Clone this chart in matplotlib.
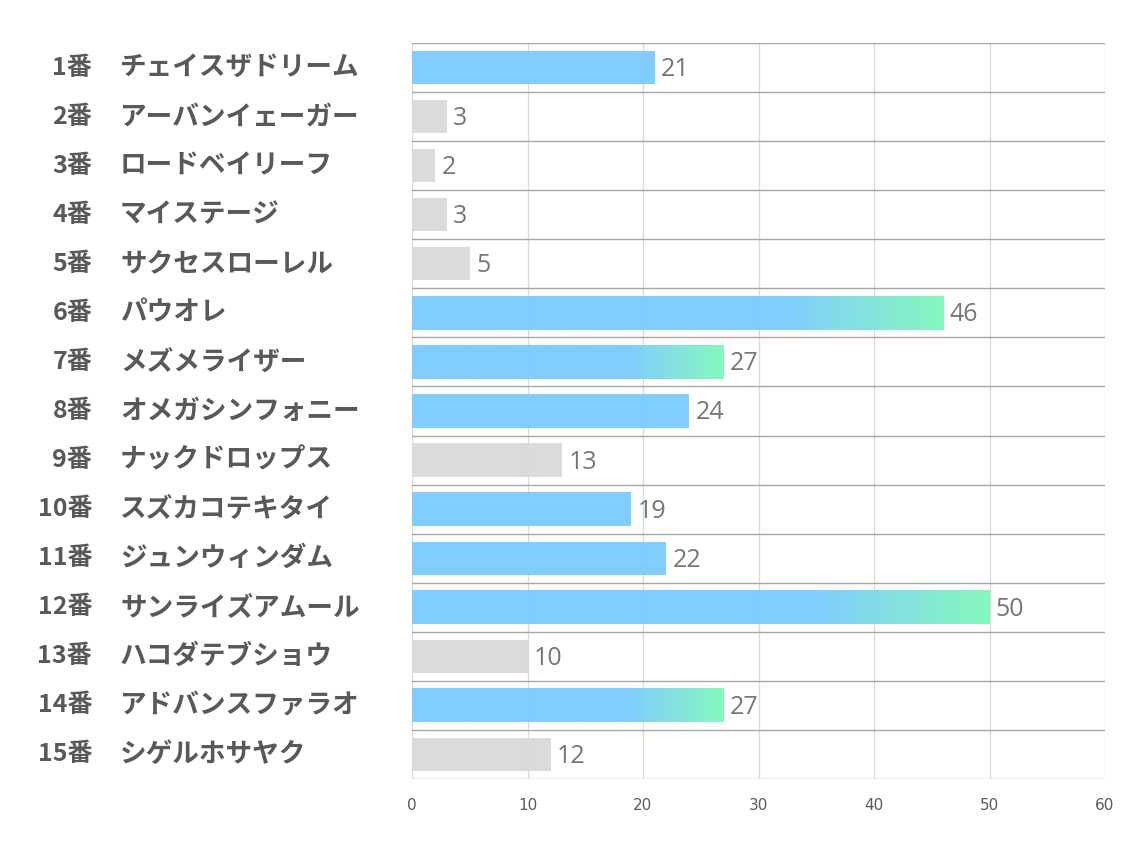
import matplotlib
matplotlib.use("Agg")
import matplotlib.pyplot as plt
import numpy as np
from matplotlib.colors import to_rgb

numbers = ["1番", "2番", "3番", "4番", "5番", "6番", "7番", "8番", "9番", "10番",
           "11番", "12番", "13番", "14番", "15番"]
names = ["チェイスザドリーム", "アーバンイェーガー", "ロードベイリーフ", "マイステージ",
         "サクセスローレル", "パウオレ", "メズメライザー", "オメガシンフォニー",
         "ナックドロップス", "スズカコテキタイ", "ジュンウィンダム", "サンライズアムール",
         "ハコダテブショウ", "アドバンスファラオ", "シゲルホサヤク"]
values = [21, 3, 2, 3, 5, 46, 27, 24, 13, 19, 22, 50, 10, 27, 12]
# bar style: 0 = gray, 1 = blue, 2 = blue->green gradient
kinds = [1, 0, 0, 0, 0, 2, 2, 1, 0, 1, 1, 2, 0, 2, 0]
xticks = [0, 10, 20, 30, 40, 50, 60]

BLUE = "#7ACBFE"
GREEN = "#7FF8BA"
GRAY = "#D9D9D9"

fig = plt.figure(figsize=(11.34, 8.5), dpi=100)
ax = fig.add_axes([412/1134, 1-779/850, (1105-412)/1134, (779-43)/850])
ax.set_xlim(0, 60)
ax.set_ylim(14.5, -0.5)

h = 0.68
n = len(values)
for i, (v, k) in enumerate(zip(values, kinds)):
    if k == 0:
        ax.barh(i, v, height=h, color=GRAY, zorder=2, alpha=0.95)
    elif k == 1:
        ax.barh(i, v, height=h, color=BLUE, zorder=2, alpha=0.95)
    else:
        npx = 400
        t = np.linspace(0, 1, npx)
        f = np.clip((t - 0.70) / 0.30, 0, 1)
        b = np.array(to_rgb(BLUE)); g = np.array(to_rgb(GREEN))
        cols = (1 - f)[:, None] * b + f[:, None] * g
        img = np.concatenate([cols, np.full((npx, 1), 0.95)], axis=1)[None, :, :]
        ax.imshow(img, extent=[0, v, i + h/2, i - h/2], aspect="auto",
                  interpolation="bilinear", zorder=2)
    ax.text(v + 0.55, i + 0.04, str(v), va="center", ha="left",
            fontsize=18, color="#767676", family=["Open Sans", "DejaVu Sans"], zorder=3)

ax.set_ylim(14.5, -0.5)
ax.set_xlim(0, 60)

# grid lines
for x in xticks:
    ax.axvline(x, color="#D9D9D9", lw=0.9, zorder=1)
for j in range(n + 1):
    ax.axhline(j - 0.5, color="#A6A6A6", lw=1.0, zorder=1)

for s in ax.spines.values():
    s.set_visible(False)
ax.set_yticks([])
ax.set_xticks(xticks)
ax.tick_params(axis="x", length=0, pad=14, labelsize=11, labelcolor="#595959")
for lab in ax.get_xticklabels():
    lab.set_family(["Liberation Sans Narrow", "DejaVu Sans"])

tr = ax.get_yaxis_transform()
x_num = (92 - 412) / (1105 - 412)
x_name = (120 - 412) / (1105 - 412)
for i in range(n):
    ax.text(x_num, i, numbers[i], transform=tr, ha="right", va="center",
            fontsize=18, fontweight="bold", color="#595959",
            family=["Noto Sans CJK JP", "DejaVu Sans"])
    ax.text(x_name, i, names[i], transform=tr, ha="left", va="center",
            fontsize=19.2, fontweight="bold", color="#595959",
            family=["Noto Sans CJK JP", "DejaVu Sans"])

fig.savefig("out.png", dpi=100)
